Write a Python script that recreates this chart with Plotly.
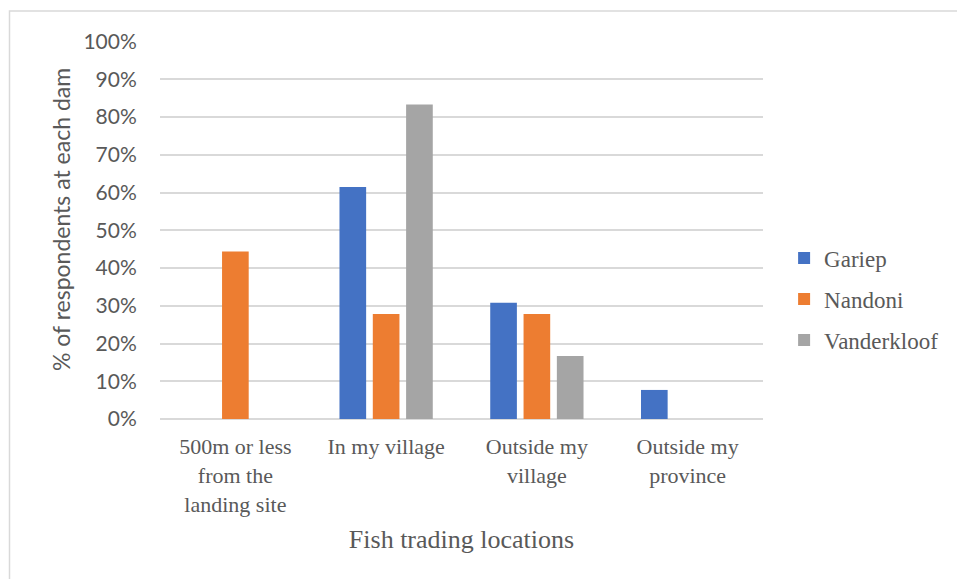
import plotly.graph_objects as go

categories = ["500m or less<br>from the<br>landing site", "In my village", "Outside my<br>village", "Outside my<br>province"]
gariep = [None, 0.615, 0.308, 0.077]
nandoni = [0.444, 0.278, 0.278, None]
vanderkloof = [None, 0.833, 0.167, None]
series_names = ["Gariep", "Nandoni", "Vanderkloof"]
colors = ["#4472C4", "#ED7D31", "#A5A5A5"]
tick_vals = [i / 10 for i in range(11)]
tick_text = [f"{i*10}%" for i in range(11)]
y_title = "% of respondents at each dam"
x_title = "Fish trading locations"

SERIF = "Liberation Serif"
SANS = "Lato"

fig = go.Figure()
for i, (name, vals, col) in enumerate(zip(series_names, [gariep, nandoni, vanderkloof], colors)):
    fig.add_trace(go.Bar(x=categories, y=vals, name=name, marker=dict(color=col, line=dict(width=0)),
                         legendgroup=f"g{i}"))

L, R, T, B = 160, 957 - 763, 41, 579 - 419
W, H = 957 - L - R, 579 - T - B
fig.update_layout(
    width=957, height=579,
    margin=dict(l=L, r=R, t=T, b=B),
    paper_bgcolor="white", plot_bgcolor="white",
    font=dict(family=SERIF, color="#595959"),
    barmode="group", bargap=0.337, bargroupgap=0.2,
    showlegend=True,
    legend=dict(x=1.035, xanchor="left", y=0.317, yanchor="middle",
                font=dict(family=SERIF, size=23, color="#595959"),
                tracegroupgap=8, itemwidth=30),
    xaxis=dict(tickfont=dict(family=SERIF, size=22, color="#595959"),
               showgrid=False, showline=False, ticks="outside", ticklen=8, tickcolor="rgba(0,0,0,0)",
               title=dict(text=x_title, font=dict(family=SERIF, size=26, color="#595959"),
                          standoff=14)),
    yaxis=dict(range=[0, 1.0015], tickvals=tick_vals, ticktext=tick_text,
               tickfont=dict(family=SANS, size=21, color="#595959"),
               showgrid=True, gridcolor="#D9D9D9", gridwidth=1.5,
               zeroline=True, zerolinecolor="#D9D9D9", zerolinewidth=1.5,
               showline=False, ticks="outside", ticklen=18, tickcolor="rgba(0,0,0,0)"),
)
fig.add_annotation(text=y_title, textangle=-90, xref="paper", yref="paper",
                   x=(61 - L) / W, y=(419 - 220) / H, xanchor="center", yanchor="middle",
                   showarrow=False, font=dict(family=SANS, size=23, color="#595959"))
# chart border
fig.add_shape(type="rect", xref="paper", yref="paper",
              x0=(9.5 - L) / W, x1=1.6,
              y0=-0.6, y1=(419 - 11) / H,
              line=dict(color="#D9D9D9", width=1.5), fillcolor="rgba(0,0,0,0)", layer="below")

fig.write_html("out.html")
